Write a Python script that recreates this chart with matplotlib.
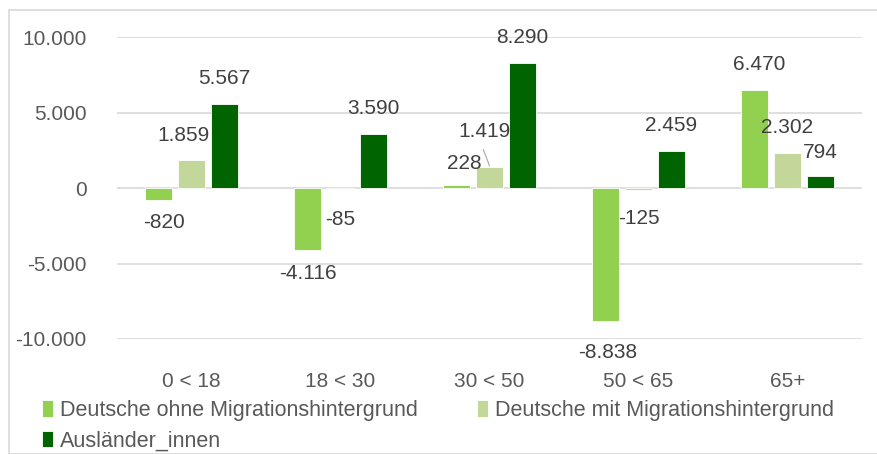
import matplotlib
matplotlib.use("Agg")
import numpy as np
import matplotlib.pyplot as plt
from matplotlib.patches import Rectangle
from matplotlib.ticker import FuncFormatter

# Data
categories = ['0 < 18', '18 < 30', '30 < 50', '50 < 65', '65+']
ohne_mh = [-820, -4116, 228, -8838, 6470]
mit_mh = [1859, -85, 1419, -125, 2302]
auslaender = [5567, 3590, 8290, 2459, 794]
series_names = ['Deutsche ohne Migrationshintergrund',
                'Deutsche mit Migrationshintergrund',
                'Ausländer_innen']

colors = ['#92D050', '#C4D79B', '#006400']
text_col = '#404040'
tick_col = '#595959'

plt.rcParams['font.family'] = ['Liberation Sans', 'DejaVu Sans']

W, H = 877, 454
fig = plt.figure(figsize=(W / 100, H / 100), dpi=100)
# chart border
fig.patches.append(Rectangle((9 / W, 0), 1, 1 - 10 / H, transform=fig.transFigure,
                             fill=False, edgecolor='#D9D9D9', linewidth=1.2))

ax = fig.add_axes([117 / W, 1 - 339 / H, 745 / W, 302 / H])

x = np.arange(len(categories))
width = 0.175
step = 0.2215
all_series = [ohne_mh, mit_mh, auslaender]

# label offsets in pixels (dx, dy) where the default is ±25 px
label_shift = {
    (0, 0): (6, -22), (1, 0): (-8, 24),
    (0, 1): (0, -23), (1, 1): (0, -30),
    (0, 2): (8, 21), (1, 2): (-5, 35),
    (0, 3): (2, -31), (1, 3): (0, -29),
    (0, 4): (5, 26), (1, 4): (0, 26), (2, 4): (0, 24),
}

handles = []
for i, (vals, col, name) in enumerate(zip(all_series, colors, series_names)):
    pos = x + (i - 1) * step
    b = ax.bar(pos, vals, width, color=col, edgecolor='white', linewidth=0.6,
               label=name, zorder=3)
    handles.append(b)
    for j, (p, v) in enumerate(zip(pos, vals)):
        dx, dy = label_shift.get((i, j), (0, 25 if v >= 0 else -25))
        lbl = f'{v:,}'.replace(',', '.')
        ax.annotate(lbl, (p, v), xytext=(dx * 0.72, dy * 0.72),
                    textcoords='offset points', ha='center', va='center',
                    fontsize=15, color=text_col, zorder=4)

# leader line for 1.419
p = x[2]
ax.plot([p - 0.04, p], [mit_mh[2] + 1100, mit_mh[2] + 50], color='#A6A6A6',
        linewidth=0.8, zorder=4)

ax.set_ylim(-10000, 10000)
ax.set_xlim(-0.5, len(categories) - 0.5)
ax.set_yticks([-10000, -5000, 0, 5000, 10000])
ax.yaxis.set_major_formatter(FuncFormatter(lambda v, _: f'{int(v):,}'.replace(',', '.')))
ax.set_xticks(x)
ax.set_xticklabels(categories)
ax.grid(axis='y', color='#D9D9D9', linewidth=1.2, zorder=0)
ax.tick_params(axis='both', length=0, labelsize=15, colors=tick_col)
ax.tick_params(axis='x', pad=24)
ax.tick_params(axis='y', pad=22)
for s in ax.spines.values():
    s.set_visible(False)

# legend filled row by row: order handles so column 1 holds entries 1 and 3
order = [0, 2, 1]
fig.legend([handles[k] for k in order], [series_names[k] for k in order],
           loc='upper left', bbox_to_anchor=(31 / W, 1 - 389 / H), ncol=2,
           frameon=False, fontsize=15.5, labelcolor=tick_col,
           handlelength=0.5, handleheight=0.8, handletextpad=0.35,
           columnspacing=2.75, labelspacing=0.45, borderpad=0)

fig.savefig('out.png', dpi=100)
